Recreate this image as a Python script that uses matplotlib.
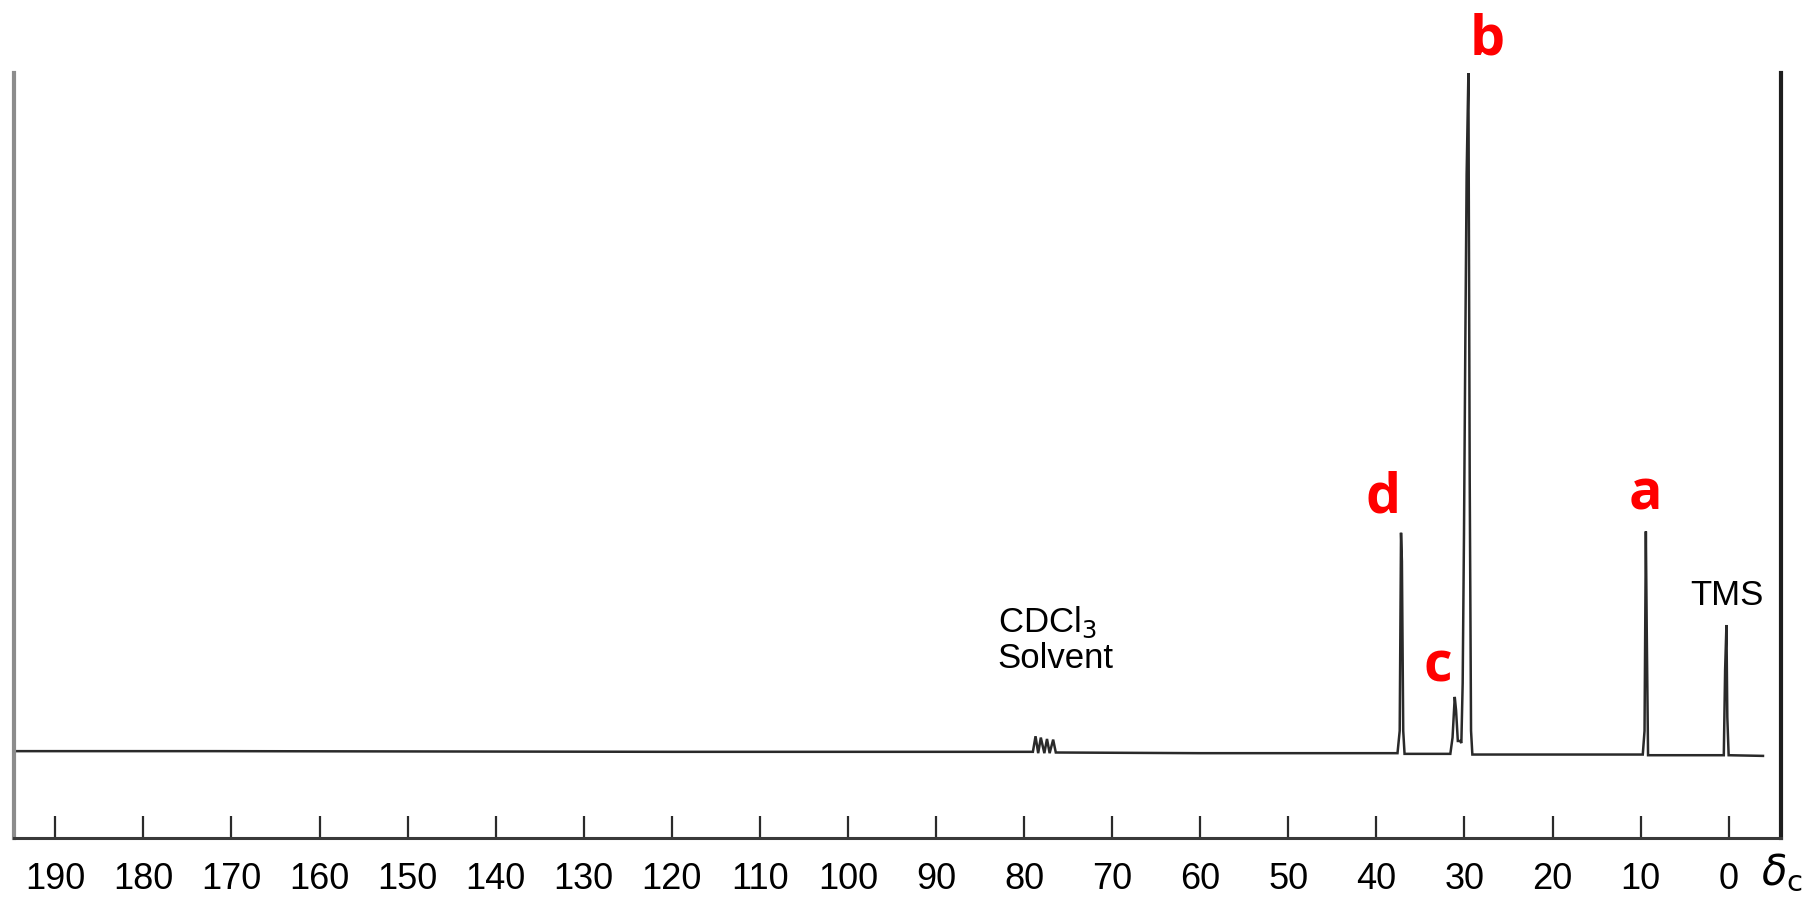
import matplotlib
matplotlib.use("Agg")
import matplotlib.pyplot as plt

# 13C spectrum traced as a polyline: chemical shift (ppm) and relative intensity
shift = [194.7, 172.0, 120.0, 79.0, 78.7, 78.4, 78.1, 77.7, 77.4, 77.1, 76.7, 76.4,
         60.0, 37.6, 37.35, 37.2, 37.1, 36.95, 36.8, 31.6, 31.35, 31.1, 30.95,
         30.75, 30.5, 30.35, 30.2, 30.05, 29.9, 29.75, 29.55, 29.4, 29.25, 29.1,
         9.75, 9.55, 9.4, 9.3, 9.15, 0.55, 0.4, 0.25, 0.15, 0.0, -3.9]
intensity = [0.0, 0.0, -0.1, -0.1, 2.2, -0.3, 2.0, -0.3, 1.8, -0.3, 1.7, -0.2,
             -0.3, -0.3, 3.0, 32.2, 28.0, 3.0, -0.4, -0.4, 2.0, 8.0, 6.0,
             1.5, 1.5, 1.2, 10.0, 32.0, 60.0, 85.0, 100.0, 40.0, 3.0, -0.5,
             -0.5, 3.0, 32.4, 18.0, -0.6, -0.6, 12.0, 18.6, 5.0, -0.6, -0.7]

ticks = list(range(0, 200, 10))
peak_labels = ["b", "d", "c", "a"]
peak_label_x = [27.4, 39.3, 33.0, 9.4]
peak_label_y = [104.8, 37.3, 12.4, 37.8]

plt.rcParams["font.family"] = ["Liberation Sans", "DejaVu Sans"]

fig = plt.figure(figsize=(18.11, 8.99), dpi=100)
ax = fig.add_axes([0.0077, 0.0679, 0.976, 0.851])

ax.plot(shift, intensity, color="#2a2a2a", lw=1.8, solid_joinstyle="miter")

ax.set_xlim(194.7, -6.0)
ax.set_ylim(-12.8, 100)

ax.spines["top"].set_visible(False)
ax.spines["left"].set_color("#8c8c8c")
ax.spines["left"].set_linewidth(3.0)
ax.spines["right"].set_color("#1e1e1e")
ax.spines["right"].set_linewidth(3.0)
ax.spines["bottom"].set_color("#3a3a3a")
ax.spines["bottom"].set_linewidth(2.2)

ax.set_yticks([])
ax.set_xticks(ticks)
ax.set_xticklabels([str(t) for t in ticks])
ax.tick_params(axis="x", direction="in", length=16, width=1.6, color="#2a2a2a",
               pad=17, labelsize=26)

# axis label sits at the right end of the scale
ax.text(-6.0, -18.0, r"$\delta_{\mathrm{c}}$", fontsize=30, ha="center", va="center",
        clip_on=False)

ax.text(83.0, 16.4, "CDCl$_3$\nSolvent", fontsize=25, ha="left", va="center",
        linespacing=1.05)
ax.text(0.2, 23.0, "TMS", fontsize=25, ha="center", va="center")

for lab, lx, ly in zip(peak_labels, peak_label_x, peak_label_y):
    ax.text(lx, ly, lab, color="#ff0000", fontsize=40, fontweight="bold",
            family=["Open Sans", "DejaVu Sans"], ha="center", va="center",
            clip_on=False)

fig.savefig("out.png", dpi=100)
